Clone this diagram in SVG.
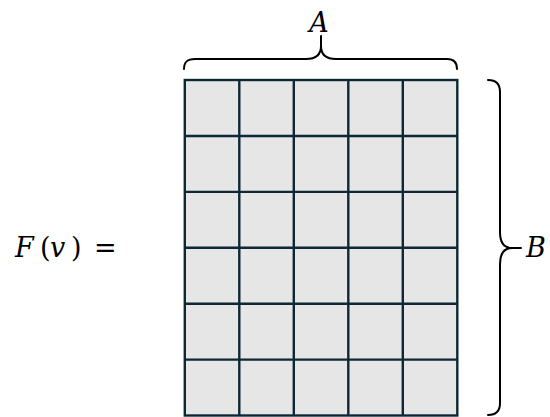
<svg xmlns="http://www.w3.org/2000/svg" width="550" height="417" viewBox="0 0 550 417">
<style>
.brace{fill:none;stroke:#000;stroke-width:2;stroke-linecap:round;stroke-linejoin:round}
.t{font-family:"DejaVu Serif","Liberation Serif",serif;font-size:27px;fill:#000}
.i{font-style:italic}
</style>
<rect width="550" height="417" fill="#fff"/>
<g id="grid">
<rect x="184.8" y="80" width="272.5" height="336" fill="#e6e6e6"/>
<g stroke="#0e2736" stroke-width="2.4" fill="none">
<rect x="184.8" y="80" width="272.5" height="335.5"/>
<line x1="239.3" y1="80" x2="239.3" y2="415.5"/>
<line x1="293.8" y1="80" x2="293.8" y2="415.5"/>
<line x1="348.3" y1="80" x2="348.3" y2="415.5"/>
<line x1="402.8" y1="80" x2="402.8" y2="415.5"/>
<line x1="184.8" y1="136" x2="457.3" y2="136"/>
<line x1="184.8" y1="191.9" x2="457.3" y2="191.9"/>
<line x1="184.8" y1="247.8" x2="457.3" y2="247.8"/>
<line x1="184.8" y1="303.7" x2="457.3" y2="303.7"/>
<line x1="184.8" y1="359.6" x2="457.3" y2="359.6"/>
</g>
</g>
<g id="braceA">
<path class="brace" d="M184,69 C184,62 187,59 195,59 L306,59 C316,59 321,55 321,46 L321,36 M321,46 C321,55 326,59 336,59 L447,59 C454,59 457,62 457,69"/>
<text class="t i" x="319" y="32" text-anchor="middle">A</text>
</g>
<g id="braceB">
<path class="brace" d="M488,80 C496,80 500,84 500,92 L500,232 C500,243 504,248 512,248 L521,248 M512,248 C504,248 500,253 500,264 L500,403 C500,411 496,415 488,415"/>
<text class="t i" x="526" y="257">B</text>
</g>
<g id="label">
<text class="t" y="257"><tspan class="i" x="15">F</tspan><tspan x="40">(</tspan><tspan class="i" x="50">v</tspan><tspan x="71">)</tspan><tspan x="94">=</tspan></text>
</g>
</svg>
